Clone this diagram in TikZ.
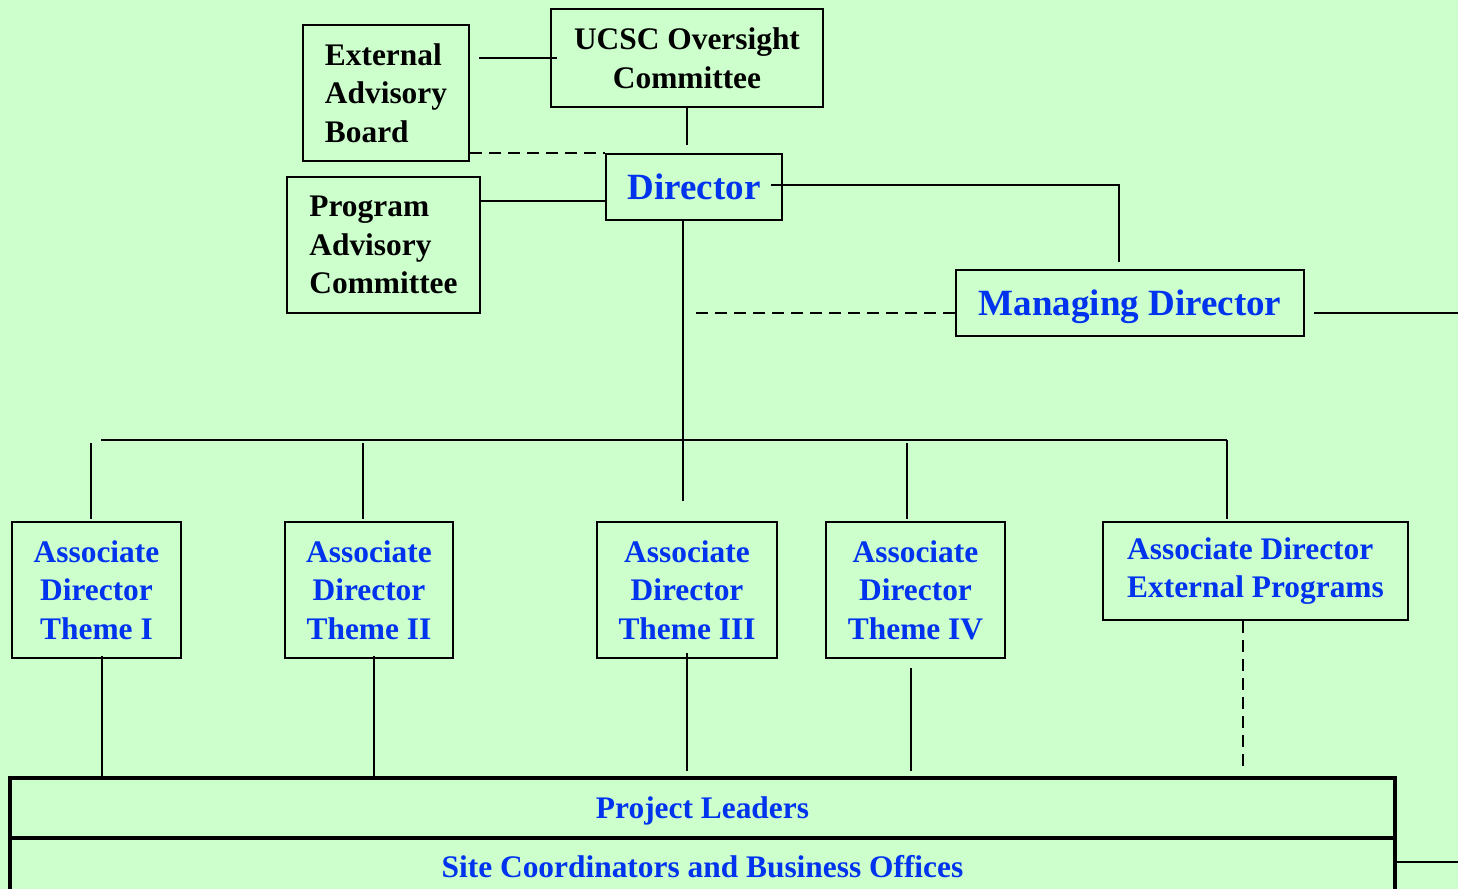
\documentclass[tikz,border=0pt]{standalone}
\usepackage{fontspec}
\setmainfont{Liberation Serif}
\definecolor{bgcolor}{RGB}{204,255,204}
\definecolor{labelblue}{RGB}{0,51,238}
\tikzset{
  orgbox/.style={draw=black,line width=1.2pt,inner sep=0pt,
    font=\fontsize{15.7}{19.3}\selectfont\bfseries},
  bluebox/.style={orgbox,text=labelblue,align=center},
  bigbox/.style={orgbox,text=labelblue,font=\fontsize{18.5}{22}\selectfont\bfseries},
  link/.style={line width=1.2pt},
  dashlink/.style={line width=1.2pt,dash pattern=on 6pt off 3.5pt}
}

\begin{document}
\begin{tikzpicture}[x=0.5pt,y=-0.5pt]
\fill[bgcolor] (0,0) rectangle (1458,889);
\useasboundingbox (0,0) rectangle (1458,889);
% top level
\node[orgbox,align=left,minimum width=83pt,minimum height=68pt] (eab) at (386,93) {External\\Advisory\\Board};
\node[orgbox,align=center,minimum width=136pt,minimum height=49pt] (ucsc) at (687,58) {UCSC Oversight\\Committee};
\node[bigbox,minimum width=88pt,minimum height=33pt] (dir) at (694,187) {Director};
\node[orgbox,align=left,minimum width=96.5pt,minimum height=68pt] (pac) at (383.5,245) {Program\\Advisory\\Committee};
\node[bigbox,minimum width=174pt,minimum height=33pt,text height=16pt,text depth=4pt] (md) at (1130,303) {Managing Director};
% associate directors
\node[bluebox,minimum width=84.5pt,minimum height=68pt] (ad1) at (96.5,590) {Associate\\Director\\Theme I};
\node[bluebox,minimum width=84pt,minimum height=68pt] (ad2) at (369,590) {Associate\\Director\\Theme II};
\node[bluebox,minimum width=90pt,minimum height=68pt] (ad3) at (687,590) {Associate\\Director\\Theme III};
\node[bluebox,minimum width=89.5pt,minimum height=68pt] (ad4) at (915.5,590) {Associate\\Director\\Theme IV};
\node[bluebox,align=left,minimum width=152.5pt,minimum height=49pt] (ad5) at (1255.5,571) {Associate Director\\External Programs};
% bottom bars
\node[orgbox,line width=1.6pt,text=labelblue,minimum width=692.5pt,minimum height=30pt,text height=14pt,text depth=3.5pt] (pl) at (702.5,808) {Project Leaders};
\node[orgbox,line width=1.6pt,text=labelblue,minimum width=692.5pt,minimum height=30pt,text height=12.5pt,text depth=3.5pt] (site) at (702.5,868) {Site Coordinators and Business Offices};
\coordinate (busl) at (101,440);
\coordinate (busr) at (1227,440);
\coordinate (stem) at (683,440);
\coordinate (mdout) at (1458,313);
\coordinate (siteout) at (1458,862);
% connectors at the top
\draw[link,shorten <=4.5pt] (eab.east |- ucsc.west) -- ([xshift=3.5pt]ucsc.west);
\draw[link,shorten >=4pt] (ucsc.south) -- (ucsc.south |- dir.north);
\draw[dashlink] (eab.east |- dir.north west) -- (dir.north west);
\draw[link] ([yshift=-7pt]dir.west) -- ([yshift=-7pt]dir.west -| pac.east);
\draw[link,shorten >=3.5pt] ([xshift=-6pt,yshift=1pt]dir.east) -| ([xshift=-5.5pt]md.north);
\draw[dashlink,shorten >=3.5pt] ([yshift=-5pt]md.west) -- ([yshift=-5pt]md.west -| stem);
\draw[link,shorten <=4.5pt] ([yshift=-5pt]md.east) -- (mdout);
% director stem and bus
\draw[link,shorten >=10pt] (dir.south -| stem) -- (stem |- ad3.north);
\draw[link] (busl) -- (busr);
\draw[link,shorten <=1.5pt,shorten >=1pt] ([xshift=-2.75pt]ad1.north |- busl) -- ([xshift=-2.75pt]ad1.north);
\draw[link,shorten <=1.5pt,shorten >=1pt] ([xshift=-3pt]ad2.north |- busl) -- ([xshift=-3pt]ad2.north);
\draw[link,shorten <=1.5pt,shorten >=1pt] ([xshift=-4.25pt]ad4.north |- busl) -- ([xshift=-4.25pt]ad4.north);
\draw[link,shorten >=1pt] (busr) -- (busr |- ad5.north);
% down to the project leaders
\draw[link,shorten <=-1.5pt] ([xshift=2.75pt]ad1.south) -- ([xshift=2.75pt]ad1.south |- pl.north);
\draw[link,shorten <=-1.5pt] ([xshift=2.5pt]ad2.south) -- ([xshift=2.5pt]ad2.south |- pl.north);
\draw[link,shorten <=-3pt,shorten >=2.5pt] (ad3.south) -- (ad3.south |- pl.north);
\draw[link,shorten <=4.5pt,shorten >=2.5pt] ([xshift=-2.25pt]ad4.south) -- ([xshift=-2.25pt]ad4.south |- pl.north);
\draw[dashlink,shorten >=2.5pt] ([xshift=-6.25pt]ad5.south) -- ([xshift=-6.25pt]ad5.south |- pl.north);
\draw[link] (siteout -| site.east) -- (siteout);
\end{tikzpicture}
\end{document}
